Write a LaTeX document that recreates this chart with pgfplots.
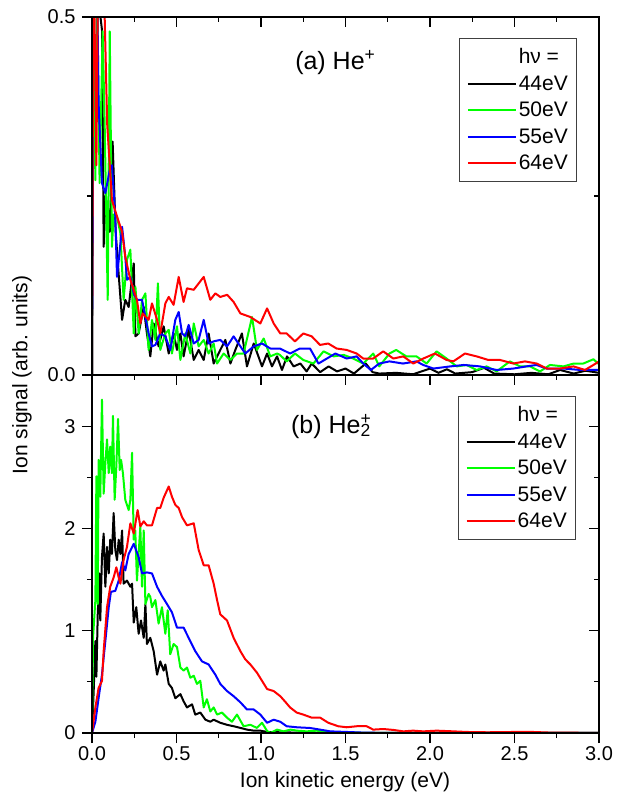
\documentclass[border=0pt]{standalone}
\usepackage{fontspec}
\setmainfont{Liberation Sans}
\usepackage{pgfplots}
\pgfplotsset{compat=1.18}

\definecolor{c44}{RGB}{0,0,0}
\definecolor{c50}{RGB}{0,255,0}
\definecolor{c55}{RGB}{0,0,255}
\definecolor{c64}{RGB}{255,0,0}

\pgfplotsset{
  box/.style={scale only axis, width=507pt, height=358pt, xmin=0, xmax=3,
    xtick={0,0.5,...,3}, minor x tick num=1,
    major tick length=10pt, minor tick length=5pt,
    axis line style={line width=1.2pt}, tick style={line width=1.2pt, black}},
  panel/.style={box, tick align=outside, xtick pos=left, ytick pos=left,
    ticklabel style={font=\fontsize{20}{24}\selectfont},
    yticklabel style={xshift=-3pt},
    /pgf/number format/assume math mode=true,
    every axis plot/.append style={line width=2pt, line join=round},
    legend image code/.code={\draw[##1, line width=2pt] (0pt,0pt) -- (48pt,0pt);},
    legend style={draw=black!75, line width=0.8pt, anchor=north east,
      font=\fontsize{21}{24}\selectfont, row sep=6.5pt,
      inner xsep=7pt, inner ysep=8pt},
    legend cell align=left},
  mirror/.style={box, tick align=inside, xtick pos=right, ytick pos=right,
    xticklabels={}, yticklabels={}},
}

\begin{document}
\begin{tikzpicture}
\useasboundingbox (0,0) rectangle (624pt,800pt);

% (a) He+
\begin{axis}[panel, at={(92pt,425pt)}, anchor=south west,
  ymin=0, ymax=0.5, ytick={0,0.5}, minor ytick={0.25}, xticklabels={},
  yticklabel style={/pgf/number format/.cd, fixed, fixed zerofill, precision=1},
  legend style={at={(0.957,0.941)}}]
\addlegendimage{empty legend}\addlegendentry{hν =}
\addplot[c44] coordinates {(0,0) (0.008,0.45) (0.015,0.6) (0.04,0.6) (0.05,0.5) (0.06,0.48) (0.069,0.179) (0.08,0.25) (0.095,0.23) (0.105,0.20) (0.122,0.326) (0.14,0.20) (0.158,0.14) (0.178,0.077) (0.197,0.105) (0.217,0.095) (0.247,0.156) (0.257,0.054) (0.276,0.058) (0.306,0.095) (0.325,0.058) (0.345,0.026) (0.365,0.072) (0.394,0.040) (0.424,0.068) (0.454,0.030) (0.483,0.058) (0.503,0.035) (0.523,0.058) (0.542,0.026) (0.572,0.063) (0.602,0.021) (0.631,0.035) (0.661,0.021) (0.690,0.058) (0.720,0.016) (0.759,0.035) (0.789,0.049) (0.819,0.016) (0.848,0.035) (0.887,0.058) (0.917,0.012) (0.957,0.044) (1.006,0.012) (1.036,0.030) (1.065,0.012) (1.095,0.026) (1.124,0.007) (1.154,0.026) (1.193,0.012) (1.233,0.016) (1.27,0.005) (1.30,0.016) (1.35,0.004) (1.40,0.012) (1.45,0.005) (1.50,0.009) (1.55,0.002) (1.62,0.016) (1.66,0.004) (1.70,0.002) (1.80,0.003) (1.90,0.001) (2.0,0.009) (2.05,0.003) (2.10,0.008) (2.15,0.002) (2.25,0.004) (2.32,0.010) (2.38,0.002) (2.5,0.001) (2.6,0.003) (2.7,0.001) (2.77,0.007) (2.85,0.002) (2.92,0.006) (3.0,0.003)};
\addlegendentry{44eV}
\addplot[c50] coordinates {(0,0) (0.004,0.6) (0.02,0.272) (0.03,0.55) (0.045,0.268) (0.063,0.48) (0.075,0.35) (0.093,0.105) (0.105,0.48) (0.118,0.179) (0.128,0.224) (0.148,0.221) (0.168,0.198) (0.187,0.105) (0.207,0.161) (0.227,0.175) (0.247,0.058) (0.257,0.123) (0.276,0.058) (0.296,0.105) (0.316,0.114) (0.335,0.035) (0.355,0.077) (0.375,0.049) (0.390,0.128) (0.404,0.035) (0.434,0.058) (0.454,0.063) (0.473,0.030) (0.503,0.068) (0.523,0.021) (0.552,0.058) (0.582,0.030) (0.602,0.072) (0.631,0.040) (0.661,0.049) (0.690,0.030) (0.720,0.044) (0.740,0.016) (0.779,0.030) (0.819,0.021) (0.858,0.030) (0.897,0.030) (0.947,0.081) (0.976,0.035) (1.016,0.051) (1.055,0.026) (1.095,0.030) (1.112,0.028) (1.152,0.019) (1.201,0.030) (1.25,0.021) (1.31,0.016) (1.37,0.033) (1.43,0.026) (1.49,0.028) (1.546,0.023) (1.605,0.016) (1.664,0.030) (1.70,0.012) (1.76,0.030) (1.80,0.035) (1.86,0.026) (1.92,0.026) (1.98,0.016) (2.039,0.033) (2.098,0.023) (2.158,0.012) (2.217,0.014) (2.276,0.007) (2.335,0.012) (2.394,0.005) (2.473,0.019) (2.533,0.012) (2.592,0.012) (2.651,0.005) (2.71,0.014) (2.79,0.012) (2.85,0.016) (2.907,0.016) (2.967,0.022) (3.0,0.015)};
\addlegendentry{50eV}
\addplot[c55] coordinates {(0,0) (0.008,0.5) (0.015,0.6) (0.03,0.55) (0.039,0.38) (0.059,0.268) (0.079,0.254) (0.108,0.29) (0.118,0.293) (0.138,0.221) (0.148,0.137) (0.178,0.207) (0.197,0.165) (0.207,0.133) (0.227,0.137) (0.247,0.114) (0.266,0.105) (0.296,0.105) (0.316,0.081) (0.335,0.058) (0.355,0.040) (0.375,0.042) (0.404,0.058) (0.434,0.054) (0.463,0.035) (0.493,0.077) (0.513,0.088) (0.533,0.058) (0.552,0.054) (0.572,0.070) (0.602,0.044) (0.631,0.049) (0.661,0.077) (0.690,0.044) (0.720,0.047) (0.759,0.049) (0.799,0.040) (0.838,0.054) (0.878,0.040) (0.907,0.030) (0.957,0.040) (1.006,0.044) (1.055,0.037) (1.112,0.037) (1.172,0.030) (1.23,0.037) (1.29,0.037) (1.34,0.016) (1.39,0.023) (1.44,0.030) (1.507,0.023) (1.566,0.026) (1.605,0.016) (1.65,0.007) (1.70,0.016) (1.76,0.019) (1.84,0.016) (1.92,0.019) (1.96,0.014) (2.02,0.009) (2.12,0.012) (2.20,0.014) (2.296,0.012) (2.394,0.007) (2.493,0.009) (2.57,0.012) (2.63,0.014) (2.69,0.009) (2.79,0.009) (2.89,0.007) (3.0,0.007)};
\addlegendentry{55eV}
\addplot[c64] coordinates {(0,0) (0.008,0.6) (0.018,0.45) (0.026,0.293) (0.035,0.55) (0.06,0.6) (0.075,0.5) (0.09,0.35) (0.118,0.244) (0.158,0.214) (0.178,0.20) (0.197,0.165) (0.227,0.133) (0.266,0.105) (0.286,0.072) (0.30,0.086) (0.335,0.077) (0.355,0.10) (0.385,0.077) (0.404,0.058) (0.434,0.10) (0.454,0.109) (0.483,0.098) (0.513,0.137) (0.542,0.102) (0.562,0.121) (0.602,0.119) (0.661,0.137) (0.700,0.105) (0.730,0.114) (0.759,0.109) (0.80,0.112) (0.838,0.102) (0.878,0.086) (0.937,0.081) (0.996,0.072) (1.036,0.093) (1.075,0.072) (1.114,0.058) (1.152,0.058) (1.201,0.047) (1.250,0.058) (1.300,0.054) (1.349,0.042) (1.398,0.044) (1.447,0.037) (1.507,0.035) (1.566,0.030) (1.605,0.023) (1.664,0.023) (1.723,0.033) (1.783,0.023) (1.842,0.026) (1.901,0.016) (1.960,0.023) (2.029,0.030) (2.098,0.021) (2.138,0.019) (2.207,0.030) (2.276,0.026) (2.345,0.021) (2.414,0.021) (2.493,0.016) (2.562,0.019) (2.631,0.016) (2.690,0.009) (2.769,0.009) (2.849,0.012) (2.917,0.007) (2.967,0.014) (3.0,0.019)};
\addlegendentry{64eV}
\node[font=\fontsize{25}{30}\selectfont] at (axis cs:1.44,0.437) {(a) He\textsuperscript{+}};
\end{axis}
\begin{axis}[mirror, at={(92pt,425pt)}, anchor=south west,
  ymin=0, ymax=0.5, ytick={0,0.5}, minor ytick={0.25}]
\end{axis}

% (b) He2+
\begin{axis}[panel, at={(92pt,67pt)}, anchor=south west,
  ymin=0, ymax=3.5, ytick={0,1,2,3}, minor ytick={0.5,1.5,2.5},
  xticklabel style={/pgf/number format/.cd, fixed, fixed zerofill, precision=1},
  legend style={at={(0.955,0.941)}}]
\addlegendimage{empty legend}\addlegendentry{hν =}
\addplot[c44] coordinates {(0,0) (0.010,0.41) (0.020,0.90) (0.026,0.55) (0.034,1.16) (0.043,1.56) (0.049,1.10) (0.059,1.72) (0.069,1.95) (0.079,1.43) (0.089,1.82) (0.099,1.56) (0.108,1.89) (0.118,1.75) (0.128,2.15) (0.138,1.79) (0.148,1.69) (0.158,1.89) (0.168,1.75) (0.178,1.98) (0.187,1.46) (0.207,1.49) (0.227,1.43) (0.237,1.46) (0.247,1.08) (0.262,1.23) (0.276,0.97) (0.290,1.10) (0.306,0.93) (0.316,1.26) (0.325,0.87) (0.345,0.93) (0.365,0.80) (0.385,0.57) (0.404,0.70) (0.424,0.61) (0.434,0.67) (0.454,0.48) (0.473,0.44) (0.493,0.34) (0.523,0.38) (0.542,0.31) (0.562,0.25) (0.592,0.28) (0.611,0.18) (0.641,0.20) (0.671,0.13) (0.700,0.11) (0.720,0.13) (0.759,0.10) (0.799,0.08) (0.838,0.066) (0.878,0.05) (0.917,0.033) (0.957,0.023) (0.996,0.023) (1.036,0.010) (1.114,0.007) (1.233,0.003) (1.5,0) (3.0,0)};
\addlegendentry{44eV}
\addplot[c50] coordinates {(0,0) (0.006,0.93) (0.020,1.30) (0.026,2.51) (0.034,1.26) (0.039,2.67) (0.049,2.31) (0.059,3.26) (0.069,2.34) (0.079,2.64) (0.089,2.87) (0.099,2.54) (0.108,2.80) (0.118,2.54) (0.124,3.10) (0.134,2.28) (0.144,2.61) (0.154,3.07) (0.164,2.57) (0.172,2.67) (0.183,2.54) (0.197,2.28) (0.217,2.18) (0.227,2.28) (0.237,2.74) (0.247,1.89) (0.256,1.98) (0.266,1.49) (0.286,2.02) (0.296,1.43) (0.306,1.98) (0.316,1.26) (0.335,1.36) (0.345,1.33) (0.355,1.23) (0.375,1.30) (0.394,1.07) (0.414,1.23) (0.434,0.97) (0.448,1.20) (0.463,0.77) (0.483,0.87) (0.503,0.84) (0.523,0.64) (0.542,0.61) (0.562,0.64) (0.582,0.54) (0.602,0.56) (0.621,0.48) (0.641,0.51) (0.661,0.25) (0.680,0.33) (0.700,0.21) (0.720,0.25) (0.740,0.18) (0.769,0.20) (0.799,0.15) (0.828,0.11) (0.858,0.18) (0.897,0.066) (0.937,0.08) (0.976,0.05) (1.006,0.10) (1.036,0.02) (1.055,0.0) (1.095,0.033) (1.134,0.016) (1.174,0.033) (1.213,0.023) (1.27,0.016) (1.33,0.023) (1.39,0.010) (1.46,0.007) (1.55,0.003) (1.7,0) (3.0,0)};
\addlegendentry{50eV}
\addplot[c55] coordinates {(0,0) (0.020,0.11) (0.039,0.34) (0.059,0.57) (0.079,0.90) (0.099,1.23) (0.112,1.38) (0.138,1.39) (0.158,1.49) (0.178,1.67) (0.197,1.59) (0.217,1.75) (0.247,1.85) (0.276,1.72) (0.296,1.56) (0.325,1.57) (0.355,1.56) (0.385,1.43) (0.414,1.34) (0.444,1.26) (0.473,1.18) (0.503,1.03) (0.542,1.03) (0.572,0.93) (0.611,0.80) (0.651,0.70) (0.690,0.67) (0.730,0.57) (0.759,0.48) (0.799,0.41) (0.838,0.36) (0.878,0.30) (0.917,0.23) (0.957,0.23) (0.996,0.18) (1.036,0.10) (1.075,0.13) (1.114,0.11) (1.152,0.066) (1.211,0.056) (1.29,0.049) (1.35,0.033) (1.41,0.016) (1.51,0.010) (1.62,0.003) (1.9,0) (3.0,0)};
\addlegendentry{55eV}
\addplot[c64] coordinates {(0,0) (0.020,0.25) (0.039,0.44) (0.059,0.51) (0.069,0.80) (0.089,1.23) (0.108,1.43) (0.128,1.52) (0.144,1.62) (0.158,1.52) (0.168,1.46) (0.187,1.69) (0.207,1.82) (0.227,2.05) (0.247,1.95) (0.270,2.18) (0.286,2.02) (0.306,2.07) (0.325,2.03) (0.355,2.03) (0.385,2.20) (0.404,2.20) (0.424,2.30) (0.454,2.41) (0.473,2.31) (0.493,2.23) (0.513,2.20) (0.533,2.11) (0.562,2.03) (0.602,2.05) (0.631,1.79) (0.661,1.64) (0.690,1.64) (0.720,1.46) (0.740,1.30) (0.759,1.16) (0.799,1.10) (0.838,0.93) (0.878,0.80) (0.907,0.72) (0.937,0.67) (0.976,0.59) (1.006,0.51) (1.036,0.43) (1.075,0.41) (1.114,0.36) (1.141,0.31) (1.172,0.25) (1.211,0.20) (1.25,0.18) (1.30,0.15) (1.35,0.15) (1.398,0.10) (1.457,0.066) (1.507,0.056) (1.566,0.066) (1.625,0.066) (1.664,0.033) (1.723,0.039) (1.783,0.030) (1.842,0.016) (1.90,0.023) (1.96,0.016) (2.04,0.023) (2.14,0.016) (2.22,0.010) (2.34,0.007) (2.49,0.010) (2.61,0.010) (2.73,0.003) (2.85,0.003) (3.0,0)};
\addlegendentry{64eV}
\node[font=\fontsize{25}{30}\selectfont] at (axis cs:1.414,3.0) {(b) He\rlap{\textsuperscript{+}}\textsubscript{2}};
\end{axis}
\begin{axis}[mirror, at={(92pt,67pt)}, anchor=south west,
  ymin=0, ymax=3.5, ytick={0,1,2,3}, minor ytick={0.5,1.5,2.5}]
\end{axis}

\node[rotate=90, font=\fontsize{21}{25}\selectfont] at (22pt,425pt) {Ion signal (arb. units)};
\node[font=\fontsize{21}{25}\selectfont] at (345pt,18pt) {Ion kinetic energy (eV)};
\end{tikzpicture}
\end{document}
